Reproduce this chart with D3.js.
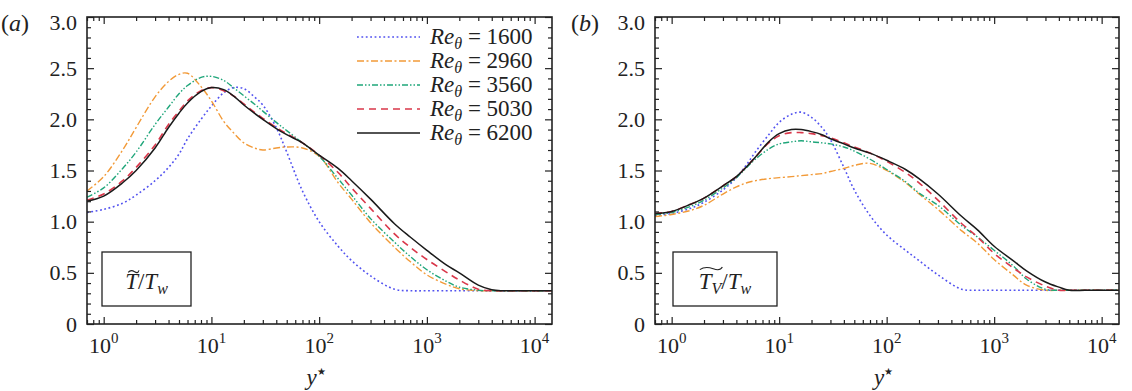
<!DOCTYPE html>
<html><head><meta charset="utf-8">
<script src="https://cdn.jsdelivr.net/npm/d3@7"></script>
<style>body{margin:0;background:#fff} text{font-family:'Liberation Serif','Times New Roman',Times,serif}</style>
</head><body><svg id="c" width="1132" height="391" xmlns="http://www.w3.org/2000/svg"></svg>
<script>
// ---------- data ----------
const yStar = [0.7, 1, 1.5, 2, 3, 4, 5, 6, 8, 10, 13, 16, 20, 25, 30, 40, 50, 70, 100, 150, 200, 300, 500, 700, 1000, 1500, 2000, 3000, 4000, 5000, 7000, 10000, 14500];
const reLabels = ["1600", "2960", "3560", "5030", "6200"];
const yTicks = [0, 0.5, 1.0, 1.5, 2.0, 2.5, 3.0];
const xTickExps = [0, 1, 2, 3, 4];

// panel (a): T~/T_w
const a1600 = [1.09,1.12,1.18,1.26,1.40,1.53,1.66,1.81,2.00,2.13,2.26,2.31,2.30,2.22,2.14,1.92,1.68,1.30,1.00,0.76,0.62,0.47,0.34,0.325,0.325,0.325,0.325,0.325,0.325,0.325,0.325,0.325,0.325];
const a2960 = [1.30,1.44,1.70,1.92,2.22,2.37,2.44,2.45,2.32,2.18,1.98,1.87,1.77,1.72,1.70,1.72,1.73,1.72,1.64,1.38,1.22,0.99,0.75,0.61,0.48,0.39,0.345,0.325,0.325,0.325,0.325,0.325,0.325];
const a3560 = [1.24,1.33,1.52,1.68,1.95,2.12,2.25,2.33,2.41,2.42,2.38,2.31,2.23,2.15,2.08,1.97,1.89,1.77,1.64,1.42,1.26,1.03,0.80,0.66,0.53,0.42,0.36,0.33,0.325,0.325,0.325,0.325,0.325];
const a5030 = [1.21,1.27,1.40,1.53,1.75,1.95,2.08,2.18,2.28,2.31,2.28,2.23,2.15,2.07,2.01,1.92,1.86,1.77,1.65,1.48,1.33,1.13,0.88,0.75,0.63,0.51,0.43,0.34,0.325,0.325,0.325,0.325,0.325];
const a6200 = [1.20,1.25,1.38,1.50,1.72,1.92,2.06,2.16,2.27,2.31,2.29,2.23,2.14,2.06,2.00,1.91,1.85,1.77,1.65,1.52,1.40,1.22,0.98,0.85,0.72,0.58,0.50,0.38,0.335,0.325,0.325,0.325,0.325];

// panel (b): T_V~/T_w
const b1600 = [1.06,1.08,1.13,1.19,1.31,1.43,1.56,1.68,1.85,1.97,2.05,2.07,2.02,1.92,1.80,1.53,1.31,1.06,0.87,0.72,0.62,0.48,0.34,0.33,0.33,0.33,0.33,0.33,0.33,0.33,0.33,0.33,0.33];
const b2960 = [1.05,1.07,1.11,1.16,1.27,1.34,1.38,1.40,1.42,1.43,1.44,1.45,1.46,1.47,1.49,1.52,1.55,1.57,1.50,1.38,1.27,1.12,0.91,0.79,0.63,0.48,0.38,0.33,0.33,0.33,0.33,0.33,0.33];
const b3560 = [1.07,1.09,1.15,1.21,1.33,1.43,1.53,1.61,1.71,1.76,1.78,1.79,1.78,1.77,1.76,1.73,1.69,1.61,1.51,1.39,1.28,1.16,0.96,0.85,0.72,0.57,0.44,0.34,0.33,0.33,0.33,0.33,0.33];
const b5030 = [1.08,1.10,1.17,1.23,1.35,1.44,1.54,1.63,1.77,1.84,1.87,1.87,1.86,1.84,1.82,1.77,1.73,1.67,1.59,1.48,1.38,1.21,0.98,0.85,0.69,0.55,0.46,0.37,0.33,0.33,0.33,0.33,0.33];
const b6200 = [1.08,1.10,1.17,1.23,1.35,1.44,1.54,1.63,1.78,1.86,1.90,1.90,1.88,1.85,1.81,1.76,1.72,1.67,1.60,1.51,1.42,1.27,1.05,0.92,0.76,0.62,0.52,0.41,0.36,0.33,0.33,0.33,0.33];

// ---------- style ----------
const FONT = "'Liberation Serif','Times New Roman',Times,serif";
const colors = ["#5252f0", "#f29a38", "#1fa67a", "#d9374a", "#1a1a1a"];
const dashes = ["1.8,2.6", "7,2.5,2,2.5", "6,2,1.5,2,1.5,2", "7,5", null];
const widths = [1.6, 1.4, 1.4, 1.6, 1.5];
const AX = "#222";

const svg = d3.select("#c");
const xDomain = [0.7, 14500];
const yTop = 17, yBot = 324;

function minorX() {
  const out = [];
  for (let k = -1; k <= 4; k++) for (let m = 2; m <= 9; m++) {
    const v = +(m * Math.pow(10, k)).toPrecision(6);
    if (v >= xDomain[0] && v <= xDomain[1]) out.push(v);
  }
  return out;
}
const yMinor = d3.range(1, 30).map(i => +(i / 10).toFixed(1)).filter(v => Math.abs(v * 2 - Math.round(v * 2)) > 1e-6);

function tilde(g, x0, x1, yc, h) {
  const w = x1 - x0;
  g.append("path")
    .attr("d", `M${x0},${yc + h * 0.4} C${x0 + w * 0.25},${yc - h} ${x0 + w * 0.5},${yc - h * 0.2} ${x0 + w * 0.6},${yc + h * 0.1} S${x1 - w * 0.1},${yc + h} ${x1},${yc - h * 0.5}`)
    .attr("fill", "none").attr("stroke", "#222").attr("stroke-width", 1.1);
}

function drawPanel(opt) {
  const x = d3.scaleLog().domain(xDomain).range(opt.xr);
  const y = d3.scaleLinear().domain([0, 3]).range([yBot, yTop]);
  const g = svg.append("g");
  const [L, R] = opt.xr;

  // series
  const line = d3.line().x((d, i) => x(yStar[i])).y(d => y(d)).curve(d3.curveCatmullRom.alpha(0.5));
  opt.series.forEach((s, k) => {
    g.append("path").attr("d", line(s)).attr("fill", "none")
      .attr("stroke", colors[k]).attr("stroke-width", widths[k])
      .attr("stroke-dasharray", dashes[k]);
  });

  // axes (inward ticks all round)
  const majX = xTickExps.map(e => Math.pow(10, e));
  const style = sel => { sel.select(".domain").remove(); sel.selectAll("line").attr("stroke", AX).attr("stroke-width", 1.2); };
  g.append("g").attr("transform", `translate(0,${yBot})`).call(d3.axisBottom(x).tickValues(majX).tickSize(-7).tickFormat("")).call(style);
  g.append("g").attr("transform", `translate(0,${yBot})`).call(d3.axisBottom(x).tickValues(minorX()).tickSize(-4).tickFormat("")).call(style);
  g.append("g").attr("transform", `translate(0,${yTop})`).call(d3.axisTop(x).tickValues(majX).tickSize(-7).tickFormat("")).call(style);
  g.append("g").attr("transform", `translate(0,${yTop})`).call(d3.axisTop(x).tickValues(minorX()).tickSize(-4).tickFormat("")).call(style);
  const yl = g.append("g").attr("transform", `translate(${L},0)`)
    .call(d3.axisLeft(y).tickValues(yTicks).tickSize(-7).tickPadding(10).tickFormat(d => d === 0 ? "0" : d3.format(".1f")(d))).call(style);
  yl.selectAll("text").attr("font-family", FONT).attr("font-size", 22).attr("fill", "#222")
    .attr("transform", d => d === 3 ? "translate(0,5)" : null);
  g.append("g").attr("transform", `translate(${L},0)`).call(d3.axisLeft(y).tickValues(yMinor).tickSize(-4).tickFormat("")).call(style);
  g.append("g").attr("transform", `translate(${R},0)`).call(d3.axisRight(y).tickValues(yTicks).tickSize(-7).tickFormat("")).call(style);
  g.append("g").attr("transform", `translate(${R},0)`).call(d3.axisRight(y).tickValues(yMinor).tickSize(-4).tickFormat("")).call(style);

  // frame
  g.append("rect").attr("x", L).attr("y", yTop).attr("width", R - L).attr("height", yBot - yTop)
    .attr("fill", "none").attr("stroke", AX).attr("stroke-width", 1.6);

  // x tick labels 10^n
  xTickExps.forEach(e => {
    const t = g.append("text").attr("x", x(Math.pow(10, e))).attr("y", 353)
      .attr("font-family", FONT).attr("font-size", 22).attr("fill", "#222").attr("text-anchor", "middle");
    t.append("tspan").text("10");
    t.append("tspan").attr("dy", -10).attr("font-size", 15).text(String(e));
  });

  // axis title y*
  const xt = g.append("text").attr("x", (L + R) / 2 - 13).attr("y", 385)
    .attr("font-family", FONT).attr("font-size", 23).attr("fill", "#222");
  xt.append("tspan").attr("font-style", "italic").text("y");
  xt.append("tspan").attr("dy", -10).attr("font-size", 10).text("★");

  // panel label
  const pl = g.append("text").attr("x", opt.labelX).attr("y", 31).attr("font-family", FONT).attr("font-size", 24).attr("fill", "#222");
  pl.append("tspan").text("(");
  pl.append("tspan").attr("font-style", "italic").text(opt.letter);
  pl.append("tspan").text(")");

  // quantity box
  const bx = opt.box;
  g.append("rect").attr("x", bx[0]).attr("y", 252).attr("width", bx[1] - bx[0]).attr("height", 54)
    .attr("fill", "#fff").attr("stroke", AX).attr("stroke-width", 1.3);
  opt.drawQuantity(g, (bx[0] + bx[1]) / 2);

  return { x, y, g };
}

// ---------- panel (a) ----------
const pa = drawPanel({
  xr: [87, 552], letter: "a", labelX: 1, box: [102, 191],
  series: [a1600, a2960, a3560, a5030, a6200],
  drawQuantity: (g, cx) => {
    const t = g.append("text").attr("x", cx).attr("y", 289).attr("text-anchor", "middle")
      .attr("font-family", FONT).attr("font-size", 23).attr("fill", "#222");
    t.append("tspan").attr("font-style", "italic").text("T");
    t.append("tspan").text("/");
    t.append("tspan").attr("font-style", "italic").text("T");
    t.append("tspan").attr("font-style", "italic").attr("font-size", 16).attr("dy", 5).text("w");
    const n = t.node();
    const s = n.getStartPositionOfChar(0).x, e = n.getEndPositionOfChar(0).x;
    tilde(g, s + 3, e + 1, 271.5, 2.4);
  }
});

// legend (panel a)
const lg = pa.g.append("g");
reLabels.forEach((r, k) => {
  const yy = 37 + k * 24;
  lg.append("line").attr("x1", 357).attr("x2", 420).attr("y1", yy).attr("y2", yy)
    .attr("stroke", colors[k]).attr("stroke-width", widths[k]).attr("stroke-dasharray", dashes[k]);
  const t = lg.append("text").attr("x", 430).attr("y", yy + 7).attr("font-family", FONT).attr("font-size", 23).attr("fill", "#222");
  t.append("tspan").attr("font-style", "italic").text("Re");
  t.append("tspan").attr("font-style", "italic").attr("font-size", 16).attr("dy", 5).text("θ");
  t.append("tspan").attr("dy", -5).text(" = " + r);
});

// ---------- panel (b) ----------
drawPanel({
  xr: [655, 1119], letter: "b", labelX: 571, box: [673, 777],
  series: [b1600, b2960, b3560, b5030, b6200],
  drawQuantity: (g, cx) => {
    const t = g.append("text").attr("x", cx).attr("y", 289).attr("text-anchor", "middle")
      .attr("font-family", FONT).attr("font-size", 23).attr("fill", "#222");
    t.append("tspan").attr("font-style", "italic").text("T");
    t.append("tspan").attr("font-style", "italic").attr("font-size", 16).attr("dy", 5).text("V");
    t.append("tspan").attr("dy", -5).text("/");
    t.append("tspan").attr("font-style", "italic").text("T");
    t.append("tspan").attr("font-style", "italic").attr("font-size", 16).attr("dy", 5).text("w");
    const n = t.node();
    const s = n.getStartPositionOfChar(0).x, e = n.getEndPositionOfChar(1).x;
    tilde(g, s + 1, e + 1, 268.5, 2.8);
  }
});
</script>
</body></html>
